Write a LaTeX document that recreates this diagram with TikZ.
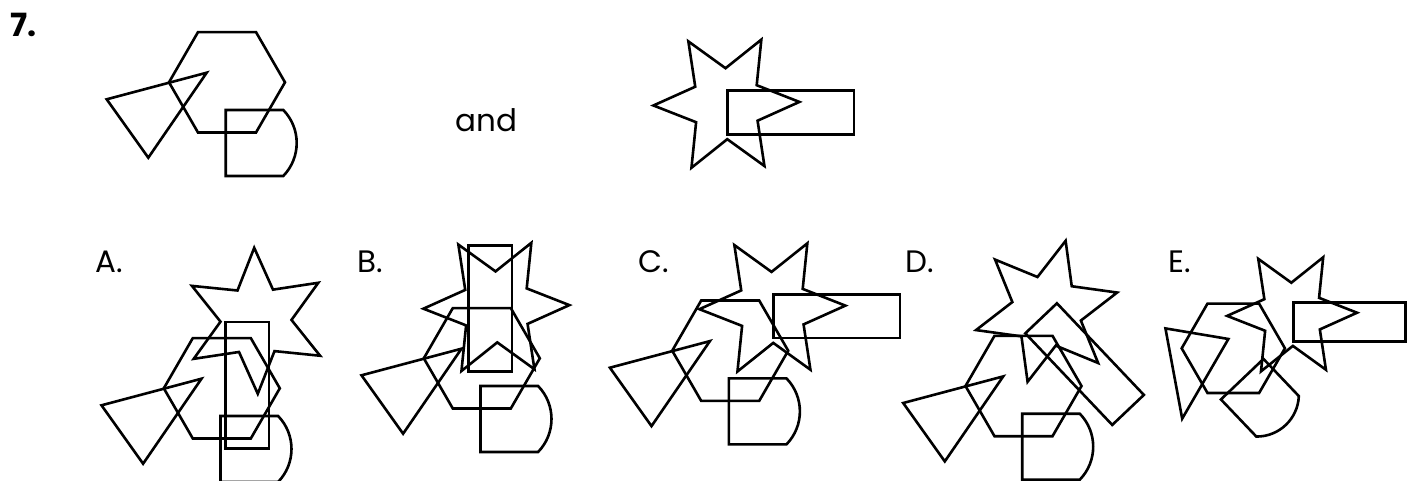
\documentclass[tikz,border=0pt]{standalone}
\usepackage{fontspec}
\setmainfont{Poppins}

% outlines of the single pieces, in pixel units (y grows downwards)
\tikzset{
  outline/.style={draw=black, line width=2.6pt, line join=miter, miter limit=10},
  tag/.style={anchor=base west, inner sep=0pt, font=\fontsize{31}{36}\selectfont},
  hexa/.pic={
    \draw[outline] (58,0) -- (29,50.2) -- (-29,50.2) -- (-58,0) -- (-29,-50.2) -- (29,-50.2) -- cycle;
  },
  tri/.pic={
    \draw[outline] (-47.2,-10.6) -- (52.8,-37.2) -- (-5.6,47.8) -- cycle;
  },
  dee/.pic={
    \draw[outline] (0,33) -- (0,-33) -- (57.6,-33) arc[start angle=44.2, end angle=-44.2, radius=47.3pt] -- cycle;
  },
  star/.pic={
    \draw[outline, rotate=1.4] (0:73) -- (30:35.5) -- (60:73) -- (90:35.5) -- (120:73) -- (150:35.5)
      -- (180:73) -- (210:35.5) -- (240:73) -- (270:35.5) -- (300:73) -- (330:35.5) -- cycle;
  },
  bar/.pic={
    \draw[outline] (-63.15,-21.8) rectangle (63.15,21.8);
  },
  % the two figures of the question
  hexgroup/.pic={
    \pic[transform shape] at (0,0) {hexa};
    \pic[transform shape] at (-73.1,27.6) {tri};
    \pic[transform shape] at (-1.3,60.7) {dee};
  },
  stargroup/.pic={
    \pic[transform shape] at (0,0) {star};
    \pic[transform shape] at (64.45,8.8) {bar};
  }
}

\begin{document}
\begin{tikzpicture}[x=1pt, y=-1pt]
  \useasboundingbox (0,0) rectangle (1411,480);

  % question
  \node[tag, font=\fontsize{32}{36}\selectfont\bfseries] (num) at (10,36.7) {7.};
  \pic at (227,82.3) {hexgroup};
  \node[tag] (and) at (455,131.7) {and};
  \pic at (726.4,103.7) {stargroup};

  % answer A
  \node[tag] (labA) at (95,272) {A.};
  \pic at (221.8,388.3) {hexgroup};
  \pic[rotate=-90] at (256,320.8) {stargroup};

  % answer B
  \node[tag] (labB) at (357,272) {B.};
  \pic at (481.8,358.3) {hexgroup};
  \pic at (496.4,306.9) {star};
  \pic[rotate=90] at (490,308.4) {bar};

  % answer C
  \node[tag] (labC) at (638.5,272) {C.};
  \pic at (730.2,350.7) {hexgroup};
  \pic at (772.4,307.4) {stargroup};

  % answer D
  \node[tag] (labD) at (905.5,272) {D.};
  \pic at (1023.5,386) {hexgroup};
  \pic[rotate=-46.5] at (1046.6,311.3) {stargroup};

  % answer E
  \node[tag] (labE) at (1168.5,272) {E.};
  \pic[scale=0.89] at (1233.3,348.3) {hexa};
  \pic[rotate=-135, scale=0.89] at (1192,362) {tri};
  \pic[rotate=-46.4, scale=0.89] at (1242.2,379.2) {dee};
  \pic[scale=0.89] at (1292.1,314.3) {stargroup};
\end{tikzpicture}
\end{document}
